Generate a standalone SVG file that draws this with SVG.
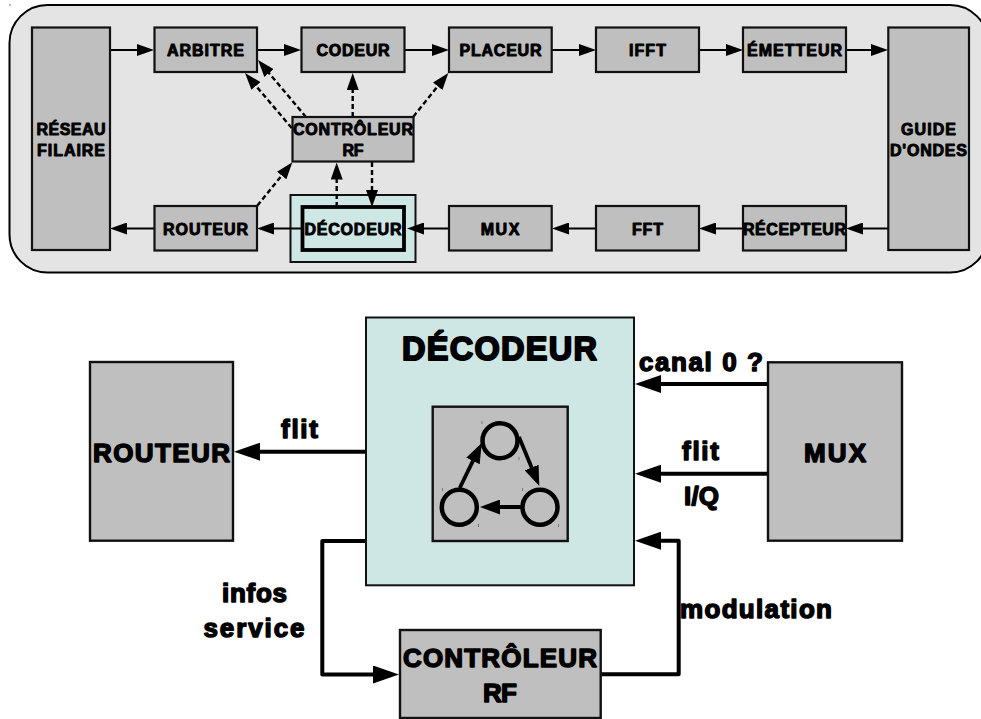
<svg xmlns="http://www.w3.org/2000/svg" width="981" height="719" viewBox="0 0 981 719">
<style>
text{font-family:"Liberation Sans",Arial,sans-serif;font-weight:700;fill:#000;text-anchor:middle;stroke:#000;stroke-linejoin:round}
.s{font-size:16px;stroke-width:.95}
.l{font-size:26px;stroke-width:1.45}
.h{font-size:32.5px;stroke-width:1.9}
.b{fill:#bfbfbf;stroke:#111;stroke-width:2.2}
.bl{fill:#bfbfbf;stroke:#111;stroke-width:2.4}
.t{fill:#cfe7e4;stroke:#111;stroke-width:2}
.a{fill:none;stroke:#000;stroke-width:2.2;marker-end:url(#ms)}
.d{fill:none;stroke:#000;stroke-width:2.4;stroke-dasharray:5 3;marker-end:url(#ms)}
.A{fill:none;stroke:#000;stroke-width:4;stroke-linejoin:round;marker-end:url(#mb)}
.c{fill:none;stroke:#000;stroke-width:3.8;marker-end:url(#mm)}
.k{fill:none;stroke:#000;stroke-width:4.5}
.tick{stroke:#777;stroke-width:1}
</style>
<defs>
<marker id="ms" markerUnits="userSpaceOnUse" markerWidth="17" markerHeight="12" refX="11" refY="6" orient="auto"><path d="M0,0L17,6L0,12z" fill="#000"/></marker>
<marker id="mm" markerUnits="userSpaceOnUse" markerWidth="20" markerHeight="15" refX="14" refY="7.5" orient="auto"><path d="M0,0L20,7.5L0,15z" fill="#000"/></marker>
<marker id="mb" markerUnits="userSpaceOnUse" markerWidth="26" markerHeight="18" refX="16" refY="9" orient="auto"><path d="M0,0L26,9L0,18z" fill="#000"/></marker>
</defs>
<rect x="0" y="0" width="981" height="719" fill="#fff"/>
<rect id="cadre" x="9.5" y="5" width="978.5" height="267.5" rx="38" ry="38" fill="#e4e4e4" stroke="#000" stroke-width="2"/>
<path class="tick" d="M10,4v2"/>
<g id="decodeur-cadre"><rect class="t" x="290.5" y="195" width="125" height="67"/></g>

<g id="connecteurs-haut">
<path class="a" d="M110,50H148"/>
<path class="a" d="M257,50H295"/>
<path class="a" d="M404.5,50H443"/>
<path class="a" d="M552,50H590"/>
<path class="a" d="M699,50H737"/>
<path class="a" d="M846,50H882"/>
<path class="a" d="M888,228.5H852"/>
<path class="a" d="M743,228.5H705"/>
<path class="a" d="M596,228.5H558"/>
<path class="a" d="M449,228.5H413"/>
<path class="a" d="M302,228.5H263"/>
<path class="a" d="M154,228.5H116"/>
<path class="d" d="M306,117L261.9,64.6"/>
<path class="d" d="M291.7,128L248.9,77.6"/>
<path class="d" d="M352.7,117V79"/>
<path class="d" d="M413.3,116.7L444.6,77.7"/>
<path class="d" d="M257.3,205.7L288.6,167"/>
<path class="d" d="M336.7,207V168.5"/>
<path class="d" d="M372,162V201"/>
</g>

<g id="reseau"><rect class="b" x="32" y="27.5" width="78" height="222.5"/><text class="s" x="71" y="135" textLength="69">RÉSEAU</text><text class="s" x="71" y="156" textLength="68">FILAIRE</text></g>
<g id="arbitre"><rect class="b" x="154.5" y="27.5" width="102.5" height="44.5"/><text class="s" x="205.5" y="56" textLength="77">ARBITRE</text></g>
<g id="codeur"><rect class="b" x="301.5" y="27.5" width="103" height="44.5"/><text class="s" x="353" y="56" textLength="73">CODEUR</text></g>
<g id="placeur"><rect class="b" x="449" y="27.5" width="102.7" height="44.5"/><text class="s" x="500.5" y="56" textLength="82">PLACEUR</text></g>
<g id="ifft"><rect class="b" x="596" y="27.5" width="103" height="44.5"/><text class="s" x="647.5" y="56" textLength="37">IFFT</text></g>
<g id="emetteur"><rect class="b" x="743" y="27.5" width="103" height="44.5"/><text class="s" x="794.5" y="56" textLength="95">ÉMETTEUR</text></g>
<g id="guide"><rect class="b" x="888.3" y="27.5" width="80.7" height="222.5"/><text class="s" x="928.5" y="135" textLength="55">GUIDE</text><text class="s" x="928.5" y="156" textLength="77">D'ONDES</text></g>
<g id="controleur"><rect class="b" x="292.5" y="117" width="121" height="44.5"/><text class="s" x="353" y="135" textLength="120">CONTRÔLEUR</text><text class="s" x="353" y="156" textLength="21">RF</text></g>
<g id="routeur"><rect class="b" x="154.5" y="206" width="102.5" height="44.5"/><text class="s" x="205.5" y="235" textLength="85">ROUTEUR</text></g>
<g id="decodeur"><rect x="302.5" y="207" width="101.5" height="43" fill="none" stroke="#000" stroke-width="3.8"/><text class="s" x="353" y="235" textLength="97">DÉCODEUR</text></g>
<g id="mux"><rect class="b" x="449" y="206" width="102.7" height="44.5"/><text class="s" x="500" y="235" textLength="38.6">MUX</text></g>
<g id="fft"><rect class="b" x="596" y="206" width="103" height="44.5"/><text class="s" x="647.5" y="235" textLength="31">FFT</text></g>
<g id="recepteur"><rect class="b" x="743" y="206" width="103" height="44.5"/><text class="s" x="794.5" y="235" textLength="103">RÉCEPTEUR</text></g>

<g id="connecteurs-bas">
<path class="A" d="M366,451.7H244"/>
<path class="A" d="M768,384H645"/>
<path class="A" d="M768,473.7H645"/>
<path class="A" d="M601,674.3H678.7V540.7H645"/>
<path class="A" d="M366,541H322.3V674.5H389"/>
</g>

<g id="routeur-detail"><rect class="bl" x="90" y="362" width="143" height="178.7"/><text class="l" x="161.5" y="462" textLength="137">ROUTEUR</text></g>
<g id="decodeur-detail"><rect class="t" x="366" y="317.5" width="268" height="267.8"/><text class="h" x="499.5" y="360" textLength="195">DÉCODEUR</text></g>
<g id="automate">
<rect class="bl" x="432.7" y="406.7" width="135" height="134.3"/>
<circle class="k" cx="500" cy="440.7" r="17.5"/>
<circle class="k" cx="459.3" cy="507.3" r="17.5"/>
<circle class="k" cx="540" cy="507.3" r="17.5"/>
<path class="c" d="M459.7,488L479.1,448.4"/>
<path class="c" d="M519,437L537,480.5"/>
<path class="c" d="M521,507H486"/>
<path class="tick" d="M482,421v3M519,457v3M442.5,488v3M478.5,524v3M522.5,488v3M558.5,524v3"/>
</g>
<g id="mux-detail"><rect class="bl" x="768" y="362.3" width="134" height="178.4"/><text class="l" x="835" y="462" textLength="62">MUX</text></g>
<g id="controleur-detail"><rect class="bl" x="400" y="630" width="200.7" height="88"/><text class="l" x="500" y="667" textLength="194">CONTRÔLEUR</text><text class="l" x="500" y="702" textLength="34">RF</text></g>

<g id="etiquettes">
<text class="l" x="299.5" y="438" textLength="37">flit</text>
<text class="l" x="701" y="370.5" textLength="124">canal 0 ?</text>
<text class="l" x="700.5" y="460" textLength="37">flit</text>
<text class="l" x="701.5" y="505" textLength="35">I/Q</text>
<text class="l" x="254.5" y="601.5" textLength="65">infos</text>
<text class="l" x="254" y="636.5" textLength="101">service</text>
<text class="l" x="756" y="617.5" textLength="152">modulation</text>
</g>
</svg>
